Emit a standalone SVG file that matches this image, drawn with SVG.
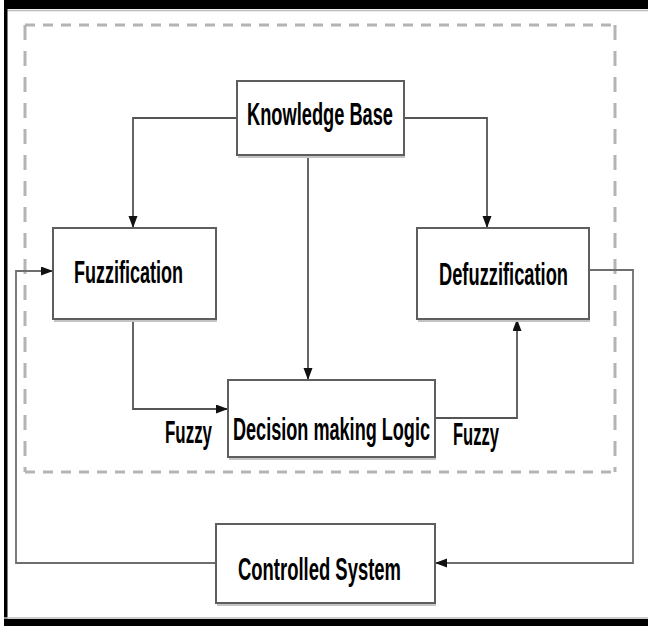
<svg xmlns="http://www.w3.org/2000/svg" width="648" height="626" viewBox="0 0 648 626">
  <defs>
    <style>
      .box { fill: #ffffff; stroke: #5e5e5e; stroke-width: 2; }
      .shadow { fill: none; stroke: #c4c4c4; stroke-width: 2; }
      .lbl { font-family: "Liberation Sans", Arial, sans-serif; font-weight: bold; font-size: 32px; fill: #000000; }
      .wire { fill: none; stroke: #555555; stroke-width: 1.8; }
      .loop { fill: none; stroke: #6e6e6e; stroke-width: 1.8; }
      .boundary { fill: none; stroke: #b4b4b4; stroke-width: 3; stroke-dasharray: 10 8; }
      .boundary-v { fill: none; stroke: #b4b4b4; stroke-width: 3; stroke-dasharray: 15 11; }
    </style>
    <marker id="arrow" markerUnits="userSpaceOnUse" markerWidth="13" markerHeight="10" refX="12" refY="4.5" orient="auto">
      <path d="M0,0 L12,4.5 L0,9 Z" fill="#111111"/>
    </marker>
  </defs>

  <!-- page frame -->
  <rect x="0" y="0" width="648" height="626" fill="#ffffff"/>
  <rect x="4" y="0" width="644" height="9" fill="#000000"/>
  <line x1="4" y1="10.5" x2="648" y2="10.5" stroke="#bdbdbd" stroke-width="1.5"/>
  <rect x="4" y="0" width="3.5" height="626" fill="#000000"/>
  <rect x="4" y="619" width="644" height="7" fill="#000000"/>
  <line x1="4" y1="618" x2="648" y2="618" stroke="#bdbdbd" stroke-width="1.5"/>

  <!-- fuzzy controller boundary -->
  <g id="controller-boundary">
    <line class="boundary" x1="25" y1="25" x2="615" y2="25"/>
    <line class="boundary" x1="25" y1="472" x2="615" y2="472"/>
    <line class="boundary-v" x1="25" y1="25" x2="25" y2="472"/>
    <line class="boundary-v" x1="615" y1="25" x2="615" y2="472"/>
  </g>

  <!-- connectors -->
  <g id="connectors">
    <path class="wire" d="M237,118 H133 V228" marker-end="url(#arrow)"/>
    <path class="wire" d="M404,118 H487 V228" marker-end="url(#arrow)"/>
    <path class="wire" d="M308,155 V380" marker-end="url(#arrow)"/>
    <path class="wire" d="M133,319 V409 H228" marker-end="url(#arrow)"/>
    <path class="wire" d="M435,418 H517 V319" marker-end="url(#arrow)"/>
    <path class="loop" d="M589,270 H633 V563 H435" marker-end="url(#arrow)"/>
    <path class="loop" d="M216,563 H16 V271 H53" marker-end="url(#arrow)"/>
  </g>

  <g id="knowledge-base">
    <line class="shadow" x1="238" y1="157" x2="405" y2="157"/>
    <rect class="box" x="237" y="81" width="167" height="74"/>
    <text class="lbl" x="247" y="125" textLength="146" lengthAdjust="spacingAndGlyphs">Knowledge Base</text>
  </g>

  <g id="fuzzification">
    <line class="shadow" x1="54" y1="321" x2="217" y2="321"/>
    <rect class="box" x="53" y="228" width="163" height="91"/>
    <text class="lbl" x="74" y="283" textLength="109" lengthAdjust="spacingAndGlyphs">Fuzzification</text>
  </g>

  <g id="defuzzification">
    <line class="shadow" x1="418" y1="321" x2="590" y2="321"/>
    <rect class="box" x="417" y="228" width="172" height="91"/>
    <text class="lbl" x="439" y="285" textLength="129" lengthAdjust="spacingAndGlyphs">Defuzzification</text>
  </g>

  <g id="decision-making-logic">
    <line class="shadow" x1="229" y1="459" x2="436" y2="459"/>
    <rect class="box" x="228" y="380" width="207" height="77"/>
    <text class="lbl" x="233" y="440" textLength="197" lengthAdjust="spacingAndGlyphs">Decision making Logic</text>
  </g>

  <g id="fuzzy-in-label">
    <text class="lbl" x="165" y="443" textLength="47" lengthAdjust="spacingAndGlyphs">Fuzzy</text>
  </g>
  <g id="fuzzy-out-label">
    <text class="lbl" x="453" y="445" textLength="46" lengthAdjust="spacingAndGlyphs">Fuzzy</text>
  </g>

  <g id="controlled-system">
    <line class="shadow" x1="217" y1="605" x2="436" y2="605"/>
    <rect class="box" x="216" y="524" width="219" height="79"/>
    <text class="lbl" x="238" y="580" textLength="163" lengthAdjust="spacingAndGlyphs">Controlled System</text>
  </g>
</svg>
